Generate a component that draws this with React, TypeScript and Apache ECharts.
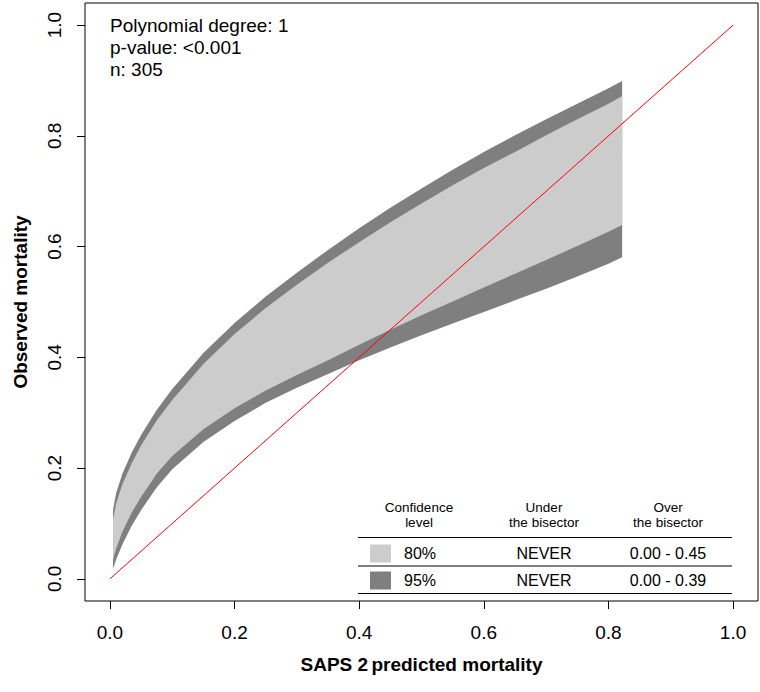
import React, { useEffect, useRef } from "react";
import * as echarts from "echarts";

// predicted mortality (x) sample points of the confidence bands
const X = [0.005, 0.01, 0.02, 0.035, 0.05, 0.075, 0.1, 0.15, 0.2, 0.25, 0.3, 0.35, 0.4, 0.45, 0.5, 0.55, 0.6, 0.65, 0.7, 0.75, 0.8, 0.822];
// 95% upper bound
const UPPER95 = [0.125, 0.155, 0.19, 0.228, 0.26, 0.305, 0.343, 0.408, 0.462, 0.51, 0.553, 0.594, 0.633, 0.67, 0.705, 0.739, 0.771, 0.801, 0.83, 0.858, 0.886, 0.899];
// 80% upper bound
const UPPER80 = [0.107, 0.136, 0.171, 0.209, 0.241, 0.286, 0.323, 0.388, 0.442, 0.489, 0.531, 0.571, 0.608, 0.644, 0.678, 0.711, 0.742, 0.771, 0.801, 0.83, 0.858, 0.872];
// 80% lower bound
const LOWER80 = [0.035, 0.055, 0.085, 0.12, 0.148, 0.19, 0.222, 0.27, 0.308, 0.34, 0.368, 0.395, 0.423, 0.45, 0.476, 0.501, 0.526, 0.551, 0.576, 0.601, 0.627, 0.639];
// 95% lower bound
const LOWER95 = [0.018, 0.035, 0.062, 0.096, 0.124, 0.165, 0.198, 0.247, 0.285, 0.318, 0.345, 0.37, 0.395, 0.418, 0.44, 0.461, 0.482, 0.503, 0.524, 0.546, 0.569, 0.581];

const BISECTOR = [[0, 0], [1, 1]];
const TICKS = [0, 0.2, 0.4, 0.6, 0.8, 1.0];

const INFO_LINES = ["Polynomial degree: 1", "p-value: <0.001", "n: 305"];
const TABLE_HEADERS = [["Confidence", "level"], ["Under", "the bisector"], ["Over", "the bisector"]];
const TABLE_ROWS = [
  { level: "80%", under: "NEVER", over: "0.00 - 0.45" },
  { level: "95%", under: "NEVER", over: "0.00 - 0.39" },
];

const LIGHT = "#cccccc";
const DARK = "#7f7f7f";
const FONT = '"Liberation Sans", Arial, Helvetica, sans-serif';

// bands: [lower, upper, color], drawn in order (95% first, 80% on top)
const BANDS: [number[], number[], string][] = [
  [LOWER95, UPPER95, DARK],
  [LOWER80, UPPER80, LIGHT],
];

export default function App() {
  const ref = useRef<HTMLDivElement>(null);
  useEffect(() => {
    const chart = echarts.init(ref.current!, null, { renderer: "svg" });

    const colCenters = [419, 544, 668];
    const graphic: any[] = [];
    INFO_LINES.forEach((t, i) => {
      graphic.push({
        type: "text",
        z: 100,
        x: 110,
        y: 25 + i * 22,
        style: { text: t, fill: "#000", fontSize: 19, fontFamily: FONT, align: "left", verticalAlign: "middle" },
      });
    });
    TABLE_HEADERS.forEach((lines, c) => {
      lines.forEach((t, j) => {
        graphic.push({
          type: "text",
          z: 100,
          x: colCenters[c],
          y: 507 + j * 15.5,
          style: { text: t, fill: "#000", fontSize: 13.5, fontFamily: FONT, align: "center", verticalAlign: "middle" },
        });
      });
    });
    [537.5, 566, 593.5].forEach((y) => {
      graphic.push({ type: "line", z: 100, shape: { x1: 358, y1: y, x2: 732, y2: y }, style: { stroke: "#000", lineWidth: 1.2 } });
    });
    TABLE_ROWS.forEach((r, i) => {
      const yc = 553.5 + i * 27;
      graphic.push({ type: "rect", z: 100, shape: { x: 370, y: yc - 9, width: 21, height: 18 }, style: { fill: i === 0 ? LIGHT : DARK } });
      [r.level, r.under, r.over].forEach((t, c) => {
        graphic.push({
          type: "text",
          z: 100,
          x: colCenters[c] + (c === 0 ? 1 : 0),
          y: yc,
          style: { text: t, fill: "#000", fontSize: 16, fontFamily: FONT, align: "center", verticalAlign: "middle" },
        });
      });
    });

    chart.setOption({
      animation: false,
      grid: { left: 85, right: 2, top: 3, bottom: 91, show: true, borderColor: "#000", borderWidth: 1, backgroundColor: "transparent" },
      xAxis: {
        type: "value",
        min: -0.04,
        max: 1.04,
        axisLine: { show: false, onZero: false },
        splitLine: { show: false },
        axisTick: { show: true, customValues: TICKS, length: 8, lineStyle: { color: "#000", width: 1 } },
        axisLabel: { customValues: TICKS, formatter: (v: number) => v.toFixed(1), color: "#000", fontSize: 19, fontFamily: FONT, margin: 22 },
        name: "{b|SAPS 2} {n|predicted mortality}",
        nameLocation: "middle",
        nameGap: 54,
        nameTextStyle: {
          rich: {
            b: { fontSize: 19, fontWeight: "bold", fontFamily: FONT, color: "#000" },
            n: { fontSize: 19, fontWeight: "bold", fontFamily: FONT, color: "#000" },
          },
        },
      },
      yAxis: {
        type: "value",
        min: -0.04,
        max: 1.04,
        axisLine: { show: false, onZero: false },
        splitLine: { show: false },
        axisTick: { show: true, customValues: TICKS, length: 8, lineStyle: { color: "#000", width: 1 } },
        axisLabel: { customValues: TICKS, formatter: (v: number) => v.toFixed(1), rotate: 90, color: "#000", fontSize: 19, fontFamily: FONT, margin: 21 },
        name: "Observed mortality",
        nameLocation: "middle",
        nameGap: 55,
        nameTextStyle: { fontSize: 19, fontWeight: "bold", fontFamily: FONT, color: "#000" },
      },
      series: [
        {
          type: "custom",
          silent: true,
          data: BANDS.map((_, i) => [X[0], i]),
          encode: { x: 0, y: -1 },
          renderItem: (params: any, api: any) => {
            const [lo, up, color] = BANDS[params.dataIndex];
            const pts: number[][] = [];
            X.forEach((x, i) => pts.push(api.coord([x, up[i]])));
            for (let i = X.length - 1; i >= 0; i--) pts.push(api.coord([X[i], lo[i]]));
            return { type: "polygon", shape: { points: pts }, style: { fill: color, stroke: null } };
          },
        },
        { type: "line", data: BISECTOR, symbol: "none", z: 5, lineStyle: { width: 1, color: "#ff0000" }, silent: true },
      ],
      graphic,
    });
    return () => chart.dispose();
  }, []);
  return <div ref={ref} style={{ position: "absolute", left: 0, top: 0, width: 760, height: 692 }} />;
}
